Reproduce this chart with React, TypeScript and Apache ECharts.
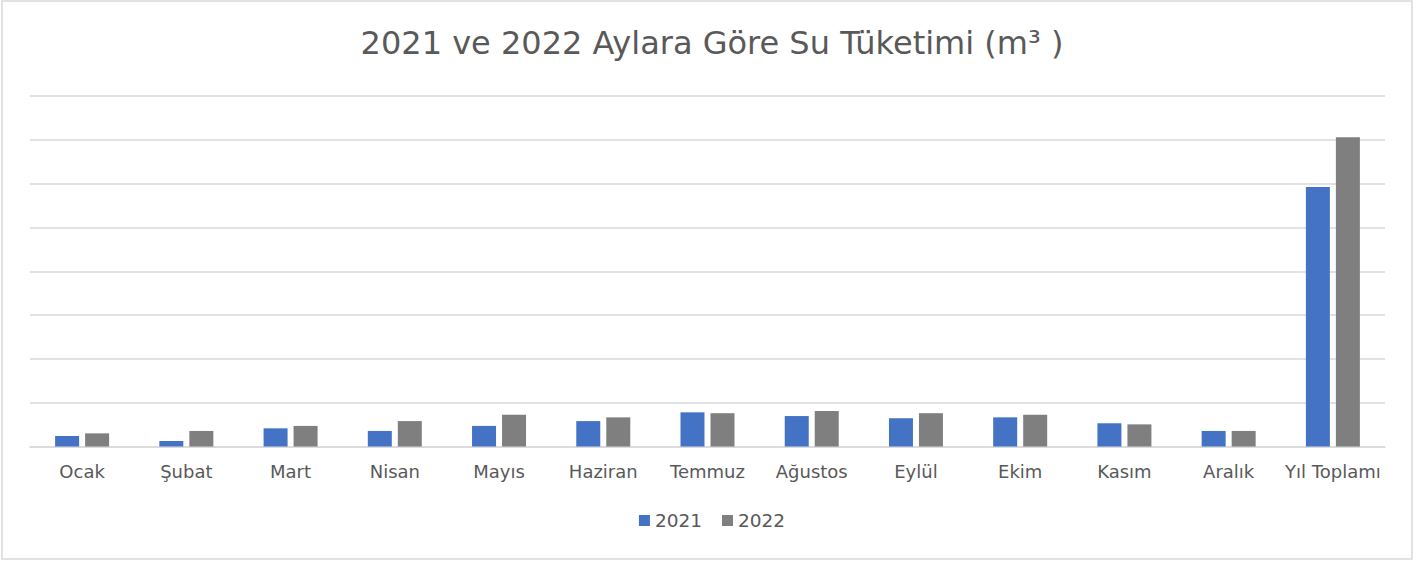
import React, { useEffect, useRef } from "react";
import * as echarts from "echarts";

const categories = ["Ocak", "Şubat", "Mart", "Nisan", "Mayıs", "Haziran", "Temmuz", "Ağustos", "Eylül", "Ekim", "Kasım", "Aralık", "Yıl Toplamı"];
const values2021 = [2400, 1250, 4150, 3550, 4700, 5800, 7800, 6950, 6450, 6650, 5300, 3550, 59250];
const values2022 = [3000, 3550, 4700, 5800, 7250, 6650, 7600, 8100, 7600, 7250, 5050, 3550, 70600];
const seriesNames = ["2021", "2022"];
const titleText = "2021 ve 2022 Aylara Göre Su Tüketimi (m³ )";

const FONT = "'DejaVu Sans', sans-serif";
const TEXT = "#595959";

export default function App() {
  const ref = useRef<HTMLDivElement>(null);
  useEffect(() => {
    if (!ref.current) return;
    const chart = echarts.init(ref.current, undefined, { renderer: "svg" });
    chart.setOption({
      animation: false,
      backgroundColor: "#ffffff",
      title: {
        text: titleText,
        left: "center",
        top: 22,
        textStyle: { color: TEXT, fontSize: 32, fontWeight: "normal", fontFamily: FONT },
      },
      legend: {
        data: seriesNames,
        bottom: 28,
        left: "center",
        itemWidth: 11,
        itemHeight: 11,
        itemGap: 20,
        icon: "rect",
        textStyle: { color: TEXT, fontSize: 18.5, fontFamily: FONT },
      },
      graphic: [
        {
          type: "rect",
          shape: { x: 2, y: 1, width: 1410, height: 558 },
          style: { fill: "none", stroke: "#d9d9d9", lineWidth: 1.5 },
          silent: true,
        },
      ],
      grid: { left: 30, right: 39, top: 96, bottom: 116.5, containLabel: false },
      xAxis: {
        type: "category",
        data: categories,
        axisLine: { lineStyle: { color: "#d9d9d9", width: 1.5 } },
        axisTick: { show: false },
        axisLabel: { color: TEXT, fontSize: 18, fontFamily: FONT, margin: 16, interval: 0 },
      },
      yAxis: {
        type: "value",
        min: 0,
        max: 80000,
        interval: 10000,
        axisLabel: { show: false },
        axisLine: { show: false },
        axisTick: { show: false },
        splitLine: { lineStyle: { color: "#d9d9d9", width: 1.5 } },
      },
      series: [
        {
          name: seriesNames[0],
          type: "bar",
          data: values2021,
          itemStyle: { color: "#4472C4" },
          barWidth: 24,
          barGap: "25%",
        },
        {
          name: seriesNames[1],
          type: "bar",
          data: values2022,
          itemStyle: { color: "#7F7F7F" },
          barWidth: 24,
          barGap: "25%",
        },
      ],
    });
    return () => chart.dispose();
  }, []);
  return (
    <div
      ref={ref}
      style={{ position: "absolute", left: 0, top: 0, width: 1424, height: 563 }}
    />
  );
}
